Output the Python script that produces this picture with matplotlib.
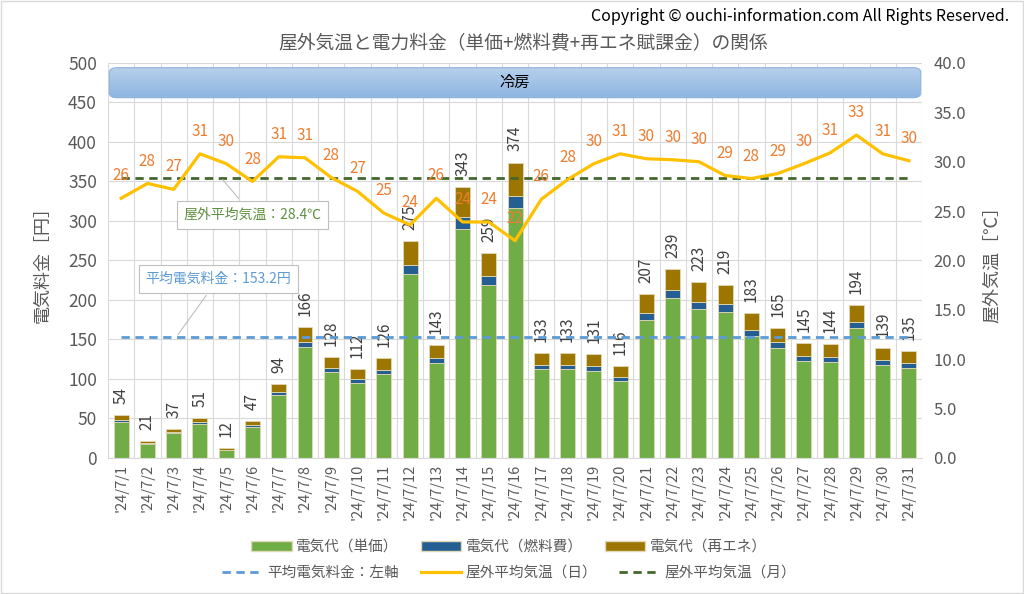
import numpy as np
import matplotlib.pyplot as plt
from matplotlib.patches import Patch, FancyBboxPatch, Rectangle
from matplotlib.lines import Line2D
from matplotlib.colors import LinearSegmentedColormap

plt.rcParams['font.family'] = ['Noto Sans CJK JP', 'DejaVu Sans']

days = ["'24/7/%d" % d for d in range(1, 32)]
total = [54, 21, 37, 51, 12, 47, 94, 166, 128, 112, 126, 275, 143, 343, 259, 374,
         133, 133, 131, 116, 207, 239, 223, 219, 183, 165, 145, 144, 194, 139, 135]
unit = [45.6, 17.7, 31.3, 43.1, 10.1, 39.7, 79.4, 140.3, 108.2, 94.6, 106.5, 232.4,
        120.8, 289.8, 218.9, 316.0, 112.4, 112.4, 110.7, 98.0, 174.9, 202.0, 188.4,
        185.1, 154.6, 139.4, 122.5, 121.7, 163.9, 117.5, 114.1]
fuel = [2.3, 0.9, 1.6, 2.2, 0.5, 2.0, 4.0, 7.1, 5.5, 4.8, 5.4, 11.8, 6.1, 14.7, 11.1,
        16.1, 5.7, 5.7, 5.6, 5.0, 8.9, 10.3, 9.6, 9.4, 7.9, 7.1, 6.2, 6.2, 8.3, 6.0, 5.8]
renew = [6.1, 2.4, 4.1, 5.7, 1.4, 5.3, 10.6, 18.6, 14.3, 12.6, 14.1, 30.8, 16.1, 38.5,
         29.0, 41.9, 14.9, 14.9, 14.7, 13.0, 23.2, 26.7, 25.0, 24.5, 20.5, 18.5, 16.3,
         16.1, 21.8, 15.5, 15.1]
temp = [26.3, 27.8, 27.2, 30.8, 29.8, 28.0, 30.5, 30.4, 28.4, 27.0, 24.8, 23.6, 26.3,
        23.9, 23.9, 22.0, 26.2, 28.2, 29.8, 30.8, 30.3, 30.2, 30.0, 28.6, 28.3, 28.8,
        29.8, 30.9, 32.7, 30.8, 30.1]
temp_labels = [26, 28, 27, 31, 30, 28, 31, 31, 28, 27, 25, 24, 26, 24, 24, 22,
               26, 28, 30, 31, 30, 30, 30, 29, 28, 29, 30, 31, 33, 31, 30]
avg_cost = 153.2
avg_temp = 28.4

gray = '#595959'
c_unit, c_fuel, c_renew = '#70AD47', '#255E91', '#9C7600'
c_line, c_avgT, c_avgC = '#FFC000', '#43682B', '#5B9BD5'

fig = plt.figure(figsize=(10.24, 5.94), dpi=100)
ax = fig.add_axes([0.1055, 0.229, 0.795, 0.665])
ax2 = ax.twinx()

x = np.arange(len(days))
w = 0.57
b1 = np.array(unit)
b2 = b1 + np.array(fuel)
ax.bar(x, unit, w, color=c_unit, edgecolor='#E2D9B8', linewidth=0.6, zorder=2)
ax.bar(x, fuel, w, bottom=b1, color=c_fuel, edgecolor='#E2D9B8', linewidth=0.6, zorder=2)
ax.bar(x, renew, w, bottom=b2, color=c_renew, edgecolor='#E2D9B8', linewidth=0.6, zorder=2)
for i, t in enumerate(total):
    ax.annotate(str(t), (x[i], t), xytext=(0, 8), textcoords='offset points',
                rotation=90, ha='center', va='bottom', fontsize=11, color='#404040', zorder=3)

ax.plot([x[0], x[-1]], [avg_cost, avg_cost], ls=(0, (3, 2)), color=c_avgC, lw=2, zorder=4)

ax.set_xlim(-0.5, len(days) - 0.5)
ax.set_ylim(0, 500)
ax.set_yticks(np.arange(0, 501, 50))
ax.set_xticks(x)
ax.set_xticklabels(days, rotation=90, fontsize=10.5, color=gray)
ax.set_xticks(np.arange(-0.5, len(days), 1), minor=True)
ax.grid(axis='y', color='#D9D9D9', lw=0.8, zorder=0)
ax.grid(axis='x', which='minor', color='#D9D9D9', lw=0.8, zorder=0)
ax.tick_params(axis='x', which='both', length=0, pad=4)
ax.tick_params(axis='y', length=0, labelsize=12.5, labelcolor=gray, pad=8)
for s in ax.spines.values():
    s.set_visible(False)
ax.spines['bottom'].set_visible(True)
ax.spines['bottom'].set_color('#D9D9D9')
ax.set_ylabel('電気料金［円］', fontsize=13, color=gray, labelpad=12)

ax2.plot(x, temp, color=c_line, lw=2.3, zorder=5)
ax2.plot([x[0], x[-1]], [avg_temp, avg_temp], ls=(0, (3, 2)), color=c_avgT, lw=2, zorder=4)
for i, t in enumerate(temp):
    ax2.annotate(str(temp_labels[i]), (x[i], t), xytext=(0, 10), textcoords='offset points',
                 ha='center', va='bottom', fontsize=11, color='#ED7D31', zorder=6)
ax2.set_ylim(0, 40)
ax2.set_yticks(np.arange(0, 41, 5))
ax2.set_yticklabels(['%.1f' % v for v in np.arange(0, 41, 5)])
ax2.tick_params(axis='y', length=0, labelsize=12, labelcolor=gray, pad=8)
for s in ax2.spines.values():
    s.set_visible(False)
ax2.set_ylabel('屋外気温［℃］', fontsize=13, color=gray, labelpad=12)

# cooling banner
box = FancyBboxPatch((-0.45, 456), len(days) - 0.1, 38,
                     boxstyle='round,pad=0,rounding_size=0.3', mutation_aspect=20,
                     facecolor='none', edgecolor='#8FB3DB', lw=0.8, zorder=6)
ax.add_patch(box)
grad = np.linspace(0, 1, 50).reshape(-1, 1)
img = ax.imshow(grad, cmap=LinearSegmentedColormap.from_list('b', ['#B7D0EC', '#8DB5E1']),
                extent=(-0.45, len(days) - 0.55, 456, 494),
                aspect='auto', origin='upper', zorder=5)
img.set_clip_path(box)
ax.text((len(days) - 1) / 2, 475, '冷房', ha='center', va='center', fontsize=11,
        color='black', zorder=7)
ax.set_xlim(-0.5, len(days) - 0.5)
ax.set_ylim(0, 500)

# callouts
ax2.annotate('屋外平均気温：28.4℃', xy=(3.8, avg_temp), xytext=(5.0, 24.6),
             ha='center', va='center', fontsize=10, color='#5E8F3E', zorder=8,
             bbox=dict(boxstyle='square,pad=0.5', fc='white', ec='#BFBFBF', lw=0.8),
             arrowprops=dict(arrowstyle='-', color='#BFBFBF', lw=0.8))
ax.annotate('平均電気料金：153.2円', xy=(2.1, avg_cost), xytext=(3.7, 227),
            ha='center', va='center', fontsize=10, color=c_avgC, zorder=8,
            bbox=dict(boxstyle='square,pad=0.5', fc='white', ec='#BFBFBF', lw=0.8),
            arrowprops=dict(arrowstyle='-', color='#BFBFBF', lw=0.8))

fig.text(0.511, 0.927, '屋外気温と電力料金（単価+燃料費+再エネ賦課金）の関係',
         ha='center', va='center', fontsize=13.5, color=gray)
fig.text(0.985, 0.972, 'Copyright © ouchi-information.com All Rights Reserved.',
         ha='right', va='center', fontsize=11.5, color='black')

h1 = [Patch(fc=c_unit, ec='#E2D9B8', label='電気代（単価）'),
      Patch(fc=c_fuel, ec='#E2D9B8', label='電気代（燃料費）'),
      Patch(fc=c_renew, ec='#E2D9B8', label='電気代（再エネ）')]
h2 = [Line2D([], [], color=c_avgC, lw=2, ls=(0, (3, 2)), label='平均電気料金：左軸'),
      Line2D([], [], color=c_line, lw=2.3, label='屋外平均気温（日）'),
      Line2D([], [], color=c_avgT, lw=2, ls=(0, (3, 2)), label='屋外平均気温（月）')]
for hs, yy in ((h1, 0.079), (h2, 0.036)):
    fig.legend(handles=hs, loc='center', bbox_to_anchor=(0.497, yy), ncol=3,
               frameon=False, fontsize=10.5, labelcolor=gray, handlelength=2.8,
               handleheight=0.6, handletextpad=0.3, columnspacing=1.5)

fig.patches.append(Rectangle((0.001, 0.001), 0.998, 0.998, transform=fig.transFigure,
                             fill=False, ec='#D9D9D9', lw=1))
fig.savefig('out.png', dpi=100)
